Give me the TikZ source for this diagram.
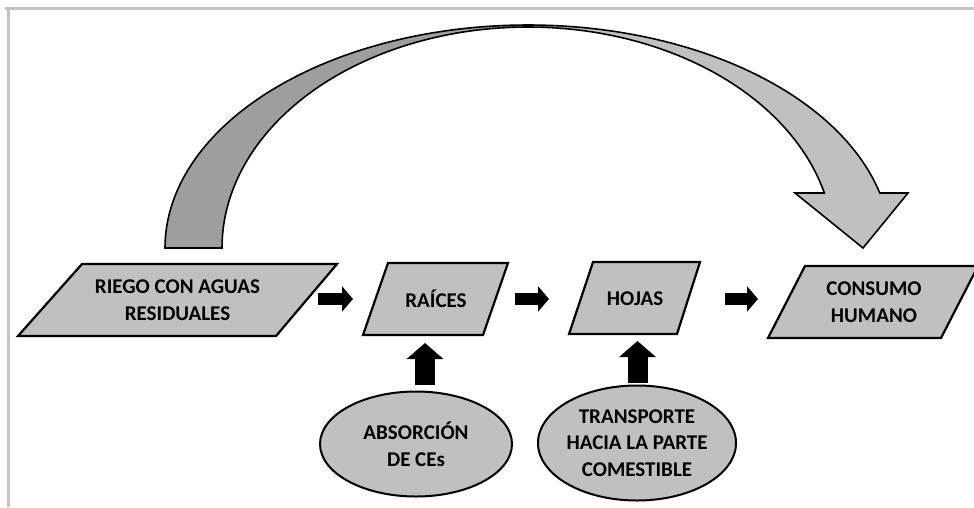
\documentclass[tikz,border=0pt]{standalone}
\usepackage{fontspec}
\setmainfont{Carlito}
\usetikzlibrary{shapes.geometric,arrows.meta}
\definecolor{boxgray}{HTML}{C0C0C0}
\definecolor{darkband}{HTML}{9E9E9E}
\definecolor{framegray}{HTML}{C3C3C3}
\begin{document}
\begin{tikzpicture}[x=1pt,y=-1pt,
  box/.style={draw=black, line width=2.2pt, fill=boxgray, line join=miter},
  lbl/.style={font=\fontsize{21}{26.5}\selectfont\bfseries, align=center, text=black, inner sep=0pt},
  oval/.style={ellipse, draw=black, line width=2pt, fill=boxgray, inner sep=0pt},
  band/.style={draw=black, line width=1.6pt, line join=miter},
  harrow/.style={line width=12pt, black, -{Triangle[length=11pt,width=25pt]}},
  varrow/.style={line width=20pt, black, -{Triangle[length=16pt,width=36pt]}},
  frame/.style={framegray, line width=3pt}]
\useasboundingbox (0,0) rectangle (974,507);
\clip (0,0) rectangle (974,507);
\fill[white] (0,0) rectangle (974,507);
% frame
\draw[frame] (5,8.5) -- (974,8.5);
\draw[frame] (8.5,7) -- (8.5,507);

% big curved arrow: left (dark) band
\draw[band, fill=darkband]
  plot[domain=180:90, samples=60, smooth] ({528+363*cos(\x)},{248-223*sin(\x)})
  -- plot[domain=90:180, samples=60, smooth] ({528+306*cos(\x)},{248-221*sin(\x)})
  -- cycle;
% right (light) band with arrowhead
\draw[band, fill=boxgray]
  plot[domain=90:14.28, samples=60, smooth] ({528+363*cos(\x)},{248-223*sin(\x)})
  -- (908,193) -- (863,248) -- (795,193)
  -- plot[domain=14.41:90, samples=60, smooth] ({528+306*cos(\x)},{248-221*sin(\x)})
  -- cycle;

% parallelograms
\draw[box] (18,336) -- (276,336) -- (337,264) -- (82,264) -- cycle;
\node[lbl] (riego) at (177.5,300) {RIEGO CON AGUAS\\RESIDUALES};
\draw[box] (363,335) -- (483,335) -- (508,263) -- (388,263) -- cycle;
\node[lbl] (raices) at (436,298.5) {RAÍCES};
\draw[box] (569,334) -- (677,334) -- (700,262) -- (593,262) -- cycle;
\node[lbl] (hojas) at (635,298.5) {HOJAS};
\draw[box] (768,338) -- (941,338) -- (978,266) -- (805,266) -- cycle;
\node[lbl] (consumo) at (874,302) {CONSUMO\\HUMANO};

% ellipses
\node[oval, minimum width=192pt, minimum height=105pt] (absorcion) at (416,444) {};
\node[lbl] (abstext) at (absorcion) {ABSORCIÓN\\DE CEs};
\node[oval, minimum width=198pt, minimum height=115pt] (transporte) at (637,443) {};
\node[lbl] (transtext) at (transporte) {TRANSPORTE\\HACIA LA PARTE\\COMESTIBLE};

% block arrows
\coordinate (h1s) at (318,299);  \coordinate (h1e) at (353,299);
\coordinate (h2s) at (515,299);  \coordinate (h2e) at (549,299);
\coordinate (h3s) at (725,299);  \coordinate (h3e) at (758,299);
\draw[harrow] (h1s) -- (h1e);
\draw[harrow] (h2s) -- (h2e);
\draw[harrow] (h3s) -- (h3e);
\coordinate (v1s) at (425,385);  \coordinate (v1e) at (425,343);
\coordinate (v2s) at (637.5,383); \coordinate (v2e) at (637.5,341);
\draw[varrow] (v1s) -- (v1e);
\draw[varrow] (v2s) -- (v2e);
\end{tikzpicture}
\end{document}
